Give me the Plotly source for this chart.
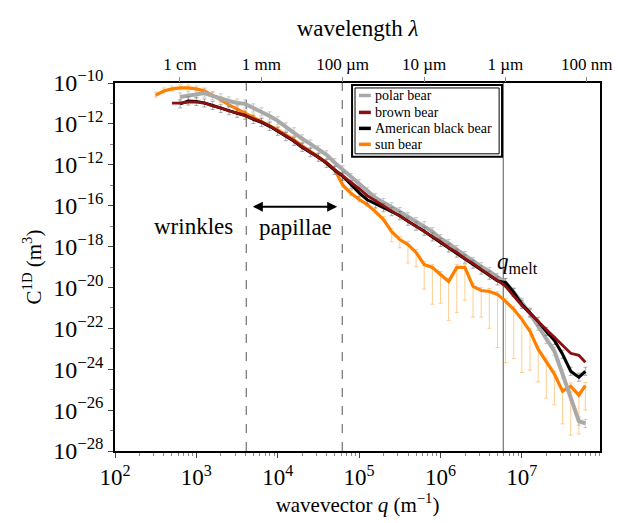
import math
import plotly.graph_objects as go

# ---------------- data ----------------
log_q = [2.5, 2.6, 2.7, 2.8, 2.9, 3.0, 3.1, 3.2, 3.3, 3.4, 3.5, 3.6, 3.7, 3.8, 3.9,
         4.0, 4.1, 4.2, 4.3, 4.4, 4.5, 4.6, 4.7, 4.8, 4.9, 5.0, 5.1, 5.2, 5.3, 5.4,
         5.5, 5.6, 5.7, 5.8, 5.9, 6.0, 6.1, 6.2, 6.3, 6.4, 6.5, 6.6, 6.7, 6.8, 6.9,
         7.0, 7.1, 7.2, 7.3, 7.4, 7.5, 7.6, 7.7, 7.78]

polar_logC = [None, None, None,
              -10.68, -10.63, -10.54, -10.49, -10.63, -10.73, -10.88, -10.98, -11.02, -11.22,
              -11.41, -11.61, -11.85, -12.15, -12.39, -12.73, -12.98, -13.27, -13.51, -13.90,
              -14.24, -14.63, -14.93, -15.32, -15.61, -15.85, -16.05, -16.29, -16.54, -16.78,
              -16.98, -17.27, -17.61, -17.85, -18.15, -18.44, -18.73, -18.98, -19.22, -19.51,
              -19.76, -20.24, -20.73, -21.27, -21.90, -22.54, -23.12, -24.24, -25.32, -26.54,
              -26.65]

brown_logC = [None, None,
              -10.98, -10.98, -10.93, -10.93, -10.98, -11.12, -11.22, -11.37, -11.46, -11.61,
              -11.76, -11.90, -12.10, -12.34, -12.59, -12.83, -13.12, -13.37, -13.61, -13.90,
              -14.24, -14.54, -14.88, -15.17, -15.51, -15.76, -16.00, -16.24, -16.49, -16.73,
              -16.98, -17.22, -17.51, -17.76, -18.05, -18.29, -18.59, -18.83, -19.12, -19.37,
              -19.66, -19.95, -20.44, -20.88, -21.27, -21.66, -22.10, -22.49, -22.88, -23.22,
              -23.32, -23.66]

black_logC = [None, None, None,
              -11.02, -10.88, -10.90, -10.98, -11.10, -11.24, -11.35, -11.48, -11.58, -11.78,
              -11.93, -12.12, -12.36, -12.62, -12.85, -13.15, -13.40, -13.63, -13.93, -14.27,
              -14.56, -14.98, -15.37, -15.71, -15.90, -16.10, -16.29, -16.49, -16.76, -17.00,
              -17.25, -17.53, -17.80, -18.07, -18.32, -18.61, -18.86, -19.15, -19.40, -19.68,
              -19.76, -20.24, -20.83, -21.22, -21.66, -22.15, -22.59, -23.27, -24.10, -24.39,
              -24.10]

sun_logC = [-10.59, -10.39, -10.29, -10.24, -10.24, -10.29, -10.39, -10.59, -10.83, -11.07,
            -11.27, -11.46, -11.66, -11.85, -12.05, -12.29, -12.54, -12.78, -13.07, -13.32,
            -13.61, -13.90, -14.24, -15.00, -15.40, -15.70, -15.95, -16.29, -16.68, -17.27,
            -17.66, -17.90, -18.29, -18.88, -19.02, -19.37, -19.71, -19.02, -19.02, -19.95,
            -20.15, -20.20, -20.34, -20.68, -21.07, -21.56, -22.15, -23.02, -23.61, -24.24,
            -25.07, -24.83, -25.27, -24.80]

# lower error extent of the sun-bear spectrum (decades below the curve)
sun_err_down = [0.1] * 29 + [0.5, 0.4, 0.9, 0.7, 1.2, 1.8, 1.4, 1.9, 2.2, 1.6, 1.5, 1.3,
                             1.8, 2.6, 3.0, 2.4, 2.6, 1.9, 1.6, 1.8, 1.5, 1.6, 2.4, 1.9, 1.2]
err_up = 0.15          # decades
small_err = 0.2        # decades, other bears

# characteristic wavevectors (m^-1)
q_wrinkles = 4.1e3
q_papillae = 6.2e4
q_melt = 5.9e6

# y tick labels (as printed on the original, including its repeated label)
y_tickvals = [1e-10, 1e-12, 1e-14, 1e-16, 1e-18, 1e-20, 1e-22, 1e-24, 1e-26, 1e-28]
y_ticktext = ["10<sup>−10</sup>", "10<sup>−12</sup>", "10<sup>−12</sup>", "10<sup>−16</sup>",
              "10<sup>−18</sup>", "10<sup>−20</sup>", "10<sup>−22</sup>", "10<sup>−24</sup>",
              "10<sup>−26</sup>", "10<sup>−28</sup>"]
x_tickvals = [1e2, 1e3, 1e4, 1e5, 1e6, 1e7]
x_ticktext = ["10<sup>2</sup>", "10<sup>3</sup>", "10<sup>4</sup>", "10<sup>5</sup>",
              "10<sup>6</sup>", "10<sup>7</sup>"]
wavelengths = [1e-2, 1e-3, 1e-4, 1e-5, 1e-6, 1e-7]     # m
wavelength_labels = ["1 cm", "1 mm", "100 µm", "10 µm", "1 µm", "100 nm"]

legend_names = ["polar bear", "brown bear", "American black bear", "sun bear"]
legend_colors = ["#a9a9a9", "#8b1111", "#000000", "#ff7f00"]

FONT = "Liberation Serif"


def series(logC, down=None, up=None):
    q, c, em, ep = [], [], [], []
    for i, (lq, lc) in enumerate(zip(log_q, logC)):
        if lc is None:
            continue
        v = 10 ** lc
        q.append(10 ** lq)
        c.append(v)
        d = down[i] if isinstance(down, list) else down
        if d is not None:
            em.append(v - 10 ** (lc - d))
            ep.append(10 ** (lc + up) - v)
    return q, c, em, ep


fig = go.Figure()

# vertical guide lines
for qv, dash in [(q_wrinkles, "dash"), (q_papillae, "dash"), (q_melt, "solid")]:
    fig.add_trace(go.Scatter(x=[qv, qv], y=[1e-28, 1e-10], mode="lines",
                             line=dict(color="#555555", width=1, dash=dash),
                             showlegend=False, hoverinfo="skip"))

q, c, em, ep = series(sun_logC, sun_err_down, err_up)
fig.add_trace(go.Scatter(x=q, y=c, mode="lines", name="sun bear", showlegend=False,
                         line=dict(color=legend_colors[3], width=3.2),
                         error_y=dict(type="data", symmetric=False, array=ep, arrayminus=em,
                                      color="rgba(255,175,70,0.6)", thickness=1, width=2)))

q, c, em, ep = series(polar_logC, small_err, small_err)
fig.add_trace(go.Scatter(x=q, y=c, mode="lines", name="polar bear", showlegend=False,
                         line=dict(color=legend_colors[0], width=4),
                         error_y=dict(type="data", symmetric=False, array=ep, arrayminus=em,
                                      color="rgba(170,170,170,0.6)", thickness=1, width=2)))

q, c, em, ep = series(black_logC, small_err, small_err)
fig.add_trace(go.Scatter(x=q, y=c, mode="lines", name="American black bear", showlegend=False,
                         line=dict(color=legend_colors[2], width=3),
                         error_y=dict(type="data", symmetric=False, array=ep, arrayminus=em,
                                      color="rgba(120,120,120,0.6)", thickness=1, width=2)))

q, c, em, ep = series(brown_logC)
fig.add_trace(go.Scatter(x=q, y=c, mode="lines", name="brown bear", showlegend=False,
                         line=dict(color=legend_colors[1], width=2.8)))

# invisible trace to anchor the top (wavelength) axis
fig.add_trace(go.Scatter(x=[1e3], y=[1e-20], xaxis="x2", mode="markers",
                         marker=dict(opacity=0), showlegend=False, hoverinfo="skip"))

x_minor = [k * 10 ** n for n in range(2, 8) for k in range(2, 10) if k * 10 ** n < 10 ** 7.96]
y_minor = [10.0 ** (-e) for e in range(11, 28, 2)]

fig.update_layout(
    width=624, height=523,
    margin=dict(l=115, r=18, t=83, b=71),
    paper_bgcolor="white", plot_bgcolor="white",
    font=dict(family=FONT, color="black", size=22),
    showlegend=False,
    xaxis=dict(type="log", range=[2, 7.96], showgrid=False, zeroline=False,
               showline=True, linecolor="black", linewidth=1.5, mirror=True,
               ticks="outside", ticklen=5, tickcolor="#444",
               tickmode="array", tickvals=x_tickvals, ticktext=x_ticktext,
               tickfont=dict(size=23),
               minor=dict(tickmode="array", tickvals=x_minor, ticks="outside",
                          ticklen=3, tickcolor="#888"),
               title=dict(text="wavevector <i>q</i> (m<sup>−1</sup>)", font=dict(size=21),
                          standoff=6)),
    xaxis2=dict(type="log", range=[2, 7.96], overlaying="x", side="top",
                showgrid=False, zeroline=False, showline=False,
                ticks="outside", ticklen=5, tickcolor="#888",
                tickmode="array", tickvals=[2 * math.pi / w for w in wavelengths],
                ticktext=wavelength_labels, tickfont=dict(size=17),
                title=dict(text="wavelength <i>λ</i>", font=dict(size=23), standoff=12)),
    yaxis=dict(type="log", range=[-28, -10], showgrid=False, zeroline=False,
               showline=True, linecolor="black", linewidth=1.5, mirror=True,
               ticks="outside", ticklen=5, tickcolor="#444",
               tickmode="array", tickvals=y_tickvals, ticktext=y_ticktext,
               tickfont=dict(size=24),
               minor=dict(tickmode="array", tickvals=y_minor, ticks="outside",
                          ticklen=3, tickcolor="#888"),
               title=dict(text="C<sup>1D</sup> (m<sup>3</sup>)", font=dict(size=21),
                          standoff=6)),
)

# ---- legend box (drawn in paper coordinates) ----
fig.add_shape(type="rect", xref="paper", yref="paper", x0=0.4888, x1=0.798, y0=0.7995,
              y1=0.9946, line=dict(color="black", width=2), fillcolor="white", layer="above")
fig.add_shape(type="rect", xref="paper", yref="paper", x0=0.4949, x1=0.792, y0=0.8076,
              y1=0.9865, line=dict(color="black", width=1), layer="above")
legend_rows = [0.9661, 0.9201, 0.8767, 0.8333]
for name, col, yy in zip(legend_names, legend_colors, legend_rows):
    fig.add_shape(type="line", xref="paper", yref="paper", x0=0.503, x1=0.5275, y0=yy, y1=yy,
                  line=dict(color=col, width=3.5), layer="above")
    fig.add_annotation(xref="paper", yref="paper", x=0.532, y=yy, text=name, showarrow=False,
                       xanchor="left", yanchor="middle", height=15,
                       font=dict(size=14, family=FONT, color="black"))

# text annotations (positions in log10 units of the axes)
fig.add_annotation(x=2.97, y=-17.02, text="wrinkles", showarrow=False,
                   font=dict(size=23, family=FONT))
fig.add_annotation(x=4.22, y=-17.07, text="papillae", showarrow=False,
                   font=dict(size=23, family=FONT))
fig.add_annotation(x=6.67, y=-18.78, text="<i>q</i><sub>melt</sub>", showarrow=False,
                   xanchor="left", font=dict(size=23, family=FONT))
fig.add_annotation(x=4.73, y=-16.05, ax=3.675, ay=-16.05, axref="x", ayref="y",
                   text="", showarrow=True, arrowhead=2, arrowside="end+start",
                   arrowwidth=2, arrowsize=1, arrowcolor="black")

fig.write_html("out.html")
